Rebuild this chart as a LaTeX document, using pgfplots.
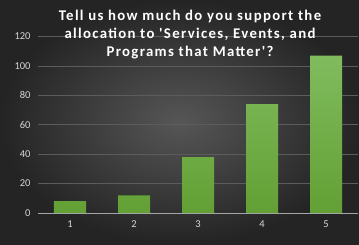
\documentclass[border=0pt]{standalone}
\usepackage{pgfplots}
\pgfplotsset{compat=1.18}
\usepackage{fontspec}
\setmainfont{Carlito}
\newfontfamily\titlefont[LetterSpace=9]{Carlito}
\definecolor{bgin}{RGB}{86,86,86}
\definecolor{bgout}{RGB}{36,36,36}
\definecolor{gridc}{RGB}{92,92,92}
\definecolor{axc}{RGB}{165,165,165}
\definecolor{tickc}{RGB}{215,215,215}
\definecolor{bartop}{RGB}{128,188,94}
\definecolor{barbot}{RGB}{98,160,52}
\begin{document}
\begin{tikzpicture}
\shade[inner color=bgin, outer color=bgout] (0,0) rectangle (359pt,244pt);
\begin{axis}[
  at={(38pt,31pt)}, anchor=south west,
  scale only axis, width=320pt, height=176.4pt,
  xmin=0.5, xmax=5.5, ymin=0, ymax=120,
  xtick={1,2,3,4,5}, ytick={0,20,40,60,80,100,120},
  axis line style={draw=none},
  ymajorgrids, grid style={gridc, line width=0.7pt},
  major tick length=0pt,
  tick label style={font=\fontsize{10.5}{12}\selectfont, text=tickc},
  /pgf/number format/assume math mode=true,
  yticklabel style={xshift=-4pt},
  xticklabel style={yshift=-4pt},
  ytick style={draw=none}, xtick style={draw=none},
  clip=false,
]
\addplot[ybar, bar width=32pt, draw=none, top color=bartop, bottom color=barbot]
  coordinates {(1,8) (2,12) (3,38) (4,74) (5,107)};
\draw[axc, line width=0.9pt] (axis cs:0.5,0) -- (axis cs:5.5,0);
\end{axis}
\node[align=center, text=white, font=\titlefont\bfseries\fontsize{14.8}{18}\selectfont] at (190pt,209pt)
  {Tell us how much do you support the\\allocation to 'Services, Events, and\\Programs that Matter'?};
\end{tikzpicture}
\end{document}
